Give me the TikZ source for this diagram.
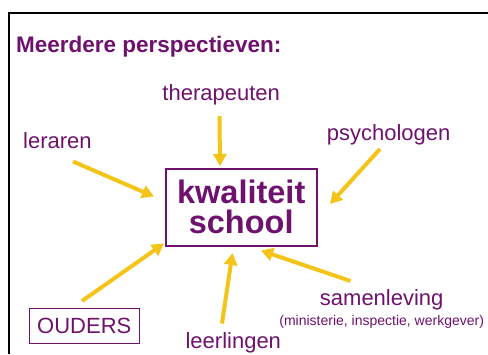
\documentclass[tikz,border=0pt]{standalone}
\usepackage{fontspec}
\setmainfont{Liberation Sans}
\usetikzlibrary{arrows.meta}
\definecolor{purp}{RGB}{110,18,110}
\definecolor{gold}{RGB}{245,196,24}
\tikzset{
  lbl/.style={text=purp, inner sep=0pt, font=\fontsize{22}{24}\selectfont},
  yarrow/.style={draw=gold, line width=4pt, -{Triangle[length=12pt,width=13pt]}},
}
\begin{document}
\begin{tikzpicture}[x=1pt,y=-1pt]
\useasboundingbox (0,0) rectangle (488,354);
% frame
\draw[line width=2pt] (8.5,354) -- (8.5,12.5) -- (488,12.5);
% title
\node[lbl, anchor=base west, font=\bfseries\fontsize{22.5}{24}\selectfont] (title) at (16,52) {Meerdere perspectieven:};
% central box
\node[draw=purp, line width=2pt, minimum width=151pt, minimum height=77pt, inner sep=0pt,
      text=purp, align=center, font=\bfseries\fontsize{32.5}{30}\selectfont] (box) at (241.2,207.3) {kwaliteit\\school};
% labels
\node[lbl, anchor=base] (ther) at (221.2,100) {therapeuten};
\node[lbl, anchor=base west] (ler) at (23,148) {leraren};
\node[lbl, anchor=base west] (psy) at (326.7,140) {psychologen};
\node[lbl, draw=purp, line width=1pt, minimum width=110pt, minimum height=35pt] (oud) at (84.3,325.8) {OUDERS};
\node[lbl, anchor=base] (leer) at (233.3,348.3) {leerlingen};
\node[lbl, anchor=base] (sam) at (381.7,305) {samenleving};
\node[lbl, anchor=base, font=\fontsize{14}{16}\selectfont] (samsub) at (381.7,325) {(ministerie, inspectie, werkgever)};
% arrow coordinates
\coordinate (therS) at (219.5,116);
\coordinate (therE) at (220,166);
\coordinate (lerS) at (73,161.5);
\coordinate (lerE) at (154,196.5);
\coordinate (psyS) at (380,149);
\coordinate (psyE) at (330,204);
\coordinate (oudS) at (82,301);
\coordinate (oudE) at (164,243.5);
\coordinate (leerS) at (222,323.5);
\coordinate (leerE) at (232.5,253);
\coordinate (samS) at (350.5,281);
\coordinate (samE) at (261,250.5);
\draw[yarrow] (therS) -- (therE);
\draw[yarrow] (lerS) -- (lerE);
\draw[yarrow] (psyS) -- (psyE);
\draw[yarrow] (oudS) -- (oudE);
\draw[yarrow] (leerS) -- (leerE);
\draw[yarrow] (samS) -- (samE);
\end{tikzpicture}
\end{document}
